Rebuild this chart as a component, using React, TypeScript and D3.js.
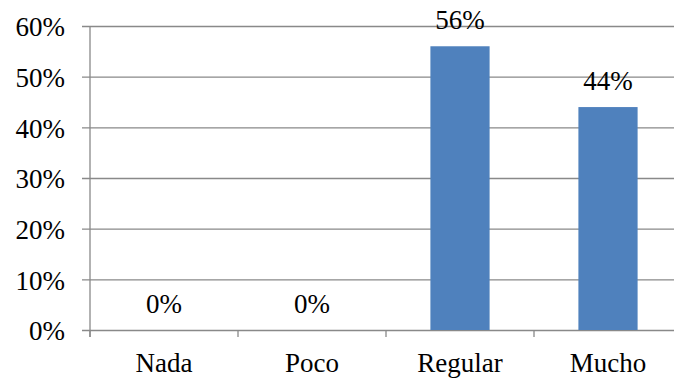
import { useEffect, useRef } from "react";
import * as d3 from "d3";

const categories = ["Nada", "Poco", "Regular", "Mucho"];
const values = [0, 0, 56, 44];
const yTicks = [0, 10, 20, 30, 40, 50, 60];

const W = 674;
const H = 378;
// plot area runs past the right edge, as in the reference
const M = { top: 26, left: 90, plotRight: 682, bottom: 330 };
const FONT = "'Liberation Serif', serif";
const FS = 27;

export default function App() {
  const ref = useRef<SVGSVGElement>(null);

  useEffect(() => {
    if (!ref.current) return;
    const svg = d3.select(ref.current);
    svg.selectAll("*").remove();

    const x = d3.scaleBand().domain(categories).range([M.left, M.plotRight]).paddingInner(0.6).paddingOuter(0.3);
    const y = d3.scaleLinear().domain([0, 60]).range([M.bottom, M.top]);
    const bounds = d3.scaleBand().domain(categories).range([M.left, M.plotRight]);

    svg.append("rect").attr("width", W).attr("height", H).attr("fill", "#fff");

    // gridlines + y ticks
    const yAxis = d3
      .axisLeft(y)
      .tickValues(yTicks)
      .tickSize(-(M.plotRight - M.left))
      .tickPadding(25)
      .tickFormat((d) => `${d}%`);
    const gy = svg.append("g").attr("transform", `translate(${M.left},0)`).call(yAxis);
    gy.select(".domain").remove();
    gy.selectAll(".tick line")
      .attr("x1", -8)
      .attr("stroke", "#898989")
      .attr("stroke-width", 1.3);
    gy.selectAll(".tick text")
      .attr("font-family", FONT)
      .attr("font-size", FS)
      .attr("dy", "0.36em")
      .attr("fill", "#000");

    // y axis line
    svg.append("line")
      .attr("x1", M.left).attr("x2", M.left)
      .attr("y1", M.top).attr("y2", M.bottom + 7)
      .attr("stroke", "#898989").attr("stroke-width", 1.3);

    // category boundary ticks
    categories.forEach((c) => {
      const bx = bounds(c)!;
      svg.append("line")
        .attr("x1", bx).attr("x2", bx)
        .attr("y1", M.bottom).attr("y2", M.bottom + 7)
        .attr("stroke", "#898989").attr("stroke-width", 1.3);
    });

    // bars
    svg.append("g")
      .selectAll("rect")
      .data(values)
      .join("rect")
      .attr("x", (_, i) => x(categories[i])!)
      .attr("width", x.bandwidth())
      .attr("y", (d) => y(d))
      .attr("height", (d) => M.bottom - y(d))
      .attr("fill", "#4F81BD");

    // value labels
    svg.append("g")
      .selectAll("text")
      .data(values)
      .join("text")
      .attr("x", (_, i) => x(categories[i])! + x.bandwidth() / 2)
      .attr("y", (d) => y(d) - 17)
      .attr("text-anchor", "middle")
      .attr("font-family", FONT)
      .attr("font-size", FS)
      .attr("fill", "#000")
      .text((d) => `${d}%`);

    // category labels
    svg.append("g")
      .selectAll("text")
      .data(categories)
      .join("text")
      .attr("x", (d) => x(d)! + x.bandwidth() / 2)
      .attr("y", 372)
      .attr("text-anchor", "middle")
      .attr("font-family", FONT)
      .attr("font-size", FS)
      .attr("fill", "#000")
      .text((d) => d);
  }, []);

  return (
    <div style={{ position: "fixed", left: 0, top: 0 }}>
      <svg ref={ref} width={W} height={H} style={{ display: "block" }} />
    </div>
  );
}
